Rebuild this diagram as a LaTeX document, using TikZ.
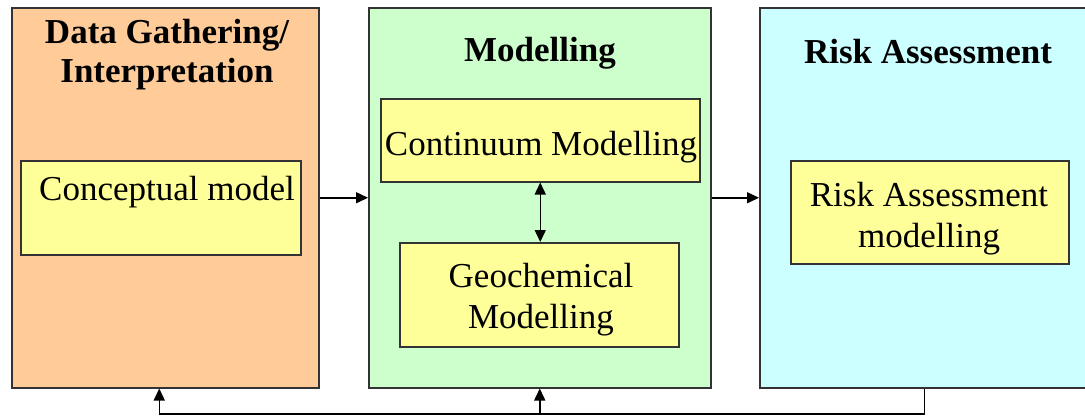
\documentclass[tikz,border=0pt]{standalone}
\usepackage{fontspec}
\setmainfont{Liberation Serif}
\usetikzlibrary{arrows.meta,calc}
\definecolor{peach}{HTML}{FFCC99}
\definecolor{mint}{HTML}{CCFFCC}
\definecolor{aqua}{HTML}{CCFFFF}
\definecolor{lemon}{HTML}{FFFF99}
\definecolor{edge}{HTML}{333333}
\begin{document}
\begin{tikzpicture}[x=1pt,y=-1pt,
  panel/.style={draw=edge,line width=1.5pt,inner sep=0pt,anchor=north west},
  inner/.style={draw=edge,line width=1.5pt,fill=lemon,inner sep=0pt,anchor=north west},
  ttl/.style={font=\fontsize{35}{39}\selectfont\bfseries,align=center,inner sep=0pt},
  txt/.style={font=\fontsize{35}{41}\selectfont,align=center,inner sep=0pt},
  arr/.style={line width=1.5pt,-{Triangle[length=12pt,width=11pt]}},
  darr/.style={line width=1.5pt,{Triangle[length=12pt,width=11pt]}-{Triangle[length=12pt,width=11pt]}}]
\useasboundingbox (0,0) rectangle (1085,418);
\fill[white] (0,0) rectangle (1085,418);
% panels
\node[panel,fill=peach,minimum width=307pt,minimum height=380pt] (L) at (11,7) {};
\node[panel,fill=mint,minimum width=342pt,minimum height=380pt] (M) at (368,7) {};
\node[panel,fill=aqua,minimum width=333pt,minimum height=380pt] (R) at (759,7) {};
% titles
\node[ttl] (Lt) at (167,55) {Data Gathering/\\Interpretation};
\node[ttl] (Mt) at (540,53) {Modelling};
\node[ttl] (Rt) at (928,52) {Risk Assessment};
% inner boxes
\node[inner,minimum width=280pt,minimum height=94pt] (CM) at (20,160) {};
\node[txt] (CMt) at (167,192) {Conceptual model};
\node[inner,minimum width=319pt,minimum height=83pt] (C) at (380,98) {};
\node[txt] (Ct) at (541,147) {Continuum Modelling};
\node[inner,minimum width=279pt,minimum height=104pt] (G) at (399,242) {};
\node[txt] (Gt) at (541,300) {Geochemical\\Modelling};
\node[inner,minimum width=278pt,minimum height=103pt] (RA) at (790,160) {};
\node[txt] (RAt) at (929,219) {Risk Assessment\\modelling};
% connectors
\draw[arr] (L.east) -- (M.west);
\draw[arr] (M.east) -- (R.west);
\draw[darr] (C.south) -- (C.south |- G.north);
\coordinate (bus) at (0,414);
\draw[arr] ([xshift=-2pt]R.south) -- ([xshift=-2pt]R.south |- bus) -| ([xshift=-6pt]L.south);
\draw[arr] (M.south |- bus) -- (M.south);
\end{tikzpicture}
\end{document}
